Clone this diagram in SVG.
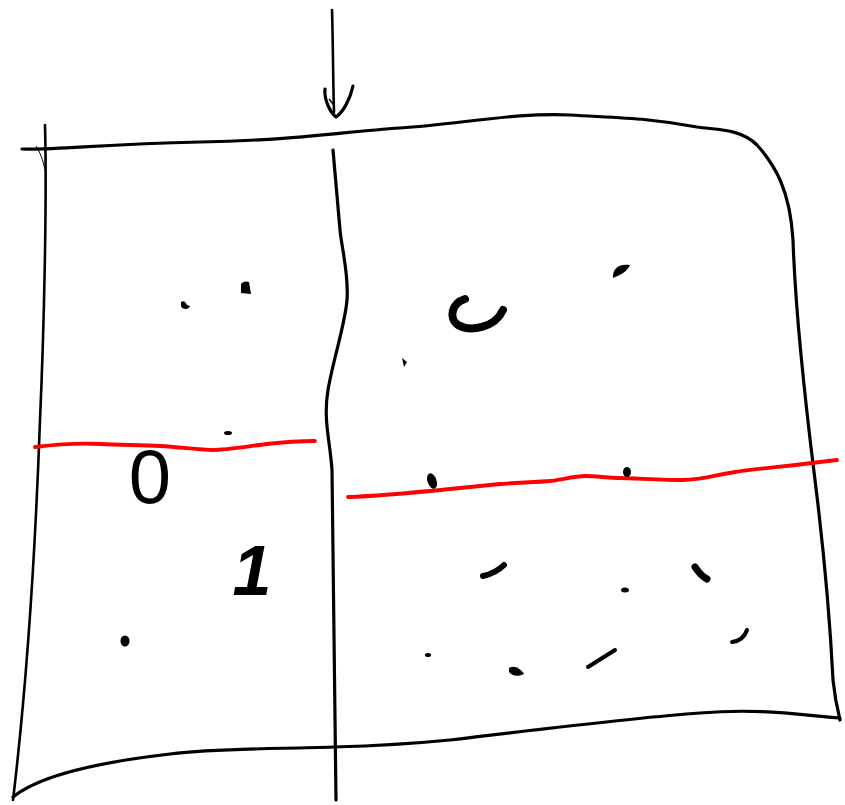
<svg xmlns="http://www.w3.org/2000/svg" width="845" height="805" viewBox="0 0 845 805">
<style>
.ink{fill:none;stroke:#000;stroke-width:2.6;stroke-linecap:round;stroke-linejoin:round}
.thick{stroke-width:3.2}
.red{fill:none;stroke:#ff0000;stroke-width:3.8;stroke-linecap:round;stroke-linejoin:round}
.blob{fill:#000;stroke:none}
.mark{fill:none;stroke:#000;stroke-linecap:round}
.digit{font-family:"Liberation Sans",Arial,sans-serif;fill:#000}
</style>
<rect width="845" height="805" fill="#fff"/>
<g id="frame">
<path class="ink" d="M45,125 C47,200 44,330 40,420 C35,560 25,700 13,800"/>
<path class="ink thick" d="M22,149 C60,150 100,144 200,142 S340,132 400,128 S520,112 570,115 S650,118 697,127 C715,130 740,128 757,145 C775,165 790,190 793,240 C795,300 805,400 815,480 S830,620 833,680 C835,700 838,712 840,720"/>
<path class="ink thick" d="M840,718 C800,715 760,708 700,713 C640,717 560,727 450,740 C400,745 370,746 333,747 C280,749 220,748 170,754 C100,762 40,775 13,797"/>
<path fill="none" stroke="#000" stroke-width="1" d="M36,146 C40,152 43,160 45,170"/>
</g>
<g id="divider">
<path class="ink thick" d="M333,150 C336,185 338,210 340,230 S349,275 347,300 S333,360 328,390 S330,440 332,470 C334,600 334,700 336,800"/>
</g>
<g id="arrow">
<path class="ink" d="M332,10 C333,40 333,80 334,112"/>
<path class="ink thick" d="M325,89 C324,100 330,112 336,117 C343,112 350,100 353,86"/>
<path fill="none" stroke="#000" stroke-width="1.5" d="M329,99 L334,105"/>
</g>
<g id="red-lines">
<path class="red" d="M35,447 C60,444 80,443 100,444 S140,445 160,446 S200,450 213,450 S250,446 267,444 S300,441 315,441"/>
<path class="red" d="M348,497 C380,496 420,492 450,489 S490,485 500,484 S540,482 550,481 S575,476 585,476 S610,478 620,478 S665,480 683,480 S715,475 735,472 S790,466 837,460"/>
</g>
<g id="marks">
<path class="blob" d="M181,302 C184,300 186,303 187,305 L190,306 C189,310 182,310 181,306 Z"/>
<path class="blob" d="M241,284 C243,281 247,281 249,282 L251,294 L241,293 Z"/>
<ellipse class="blob" cx="228" cy="433" rx="4" ry="2"/>
<ellipse class="blob" cx="125" cy="641" rx="4.5" ry="5.5"/>
<path class="mark" stroke-width="8" d="M465,299 C452,303 448,318 458,325 C470,332 495,328 503,310"/>
<path class="blob" d="M613,278 C612,270 618,263 630,265 C627,272 620,275 613,278 Z"/>
<path class="blob" d="M402,358 L407,362 L404,367 Z"/>
<ellipse class="blob" cx="432" cy="481" rx="4.5" ry="8" transform="rotate(-20 432 481)"/>
<ellipse class="blob" cx="627" cy="472" rx="4" ry="5"/>
<path class="mark" stroke-width="6" d="M483,576 C492,574 499,570 504,565"/>
<ellipse class="blob" cx="625" cy="590" rx="4" ry="2.5"/>
<path class="mark" stroke-width="7" d="M695,567 C699,573 703,577 707,579"/>
<path class="mark" stroke-width="4" d="M732,642 C740,641 745,636 747,630"/>
<ellipse class="blob" cx="428" cy="655" rx="3" ry="2"/>
<path class="blob" d="M509,668 C514,665 520,668 524,674 C518,677 512,676 509,672 Z"/>
<path class="mark" stroke-width="4" d="M588,667 L615,650"/>
<text class="digit" x="150" y="503" font-size="76" text-anchor="middle">0</text>
<text class="digit" x="252" y="595" font-size="70" text-anchor="middle" font-style="italic" font-weight="bold">1</text>
</g>
</svg>
